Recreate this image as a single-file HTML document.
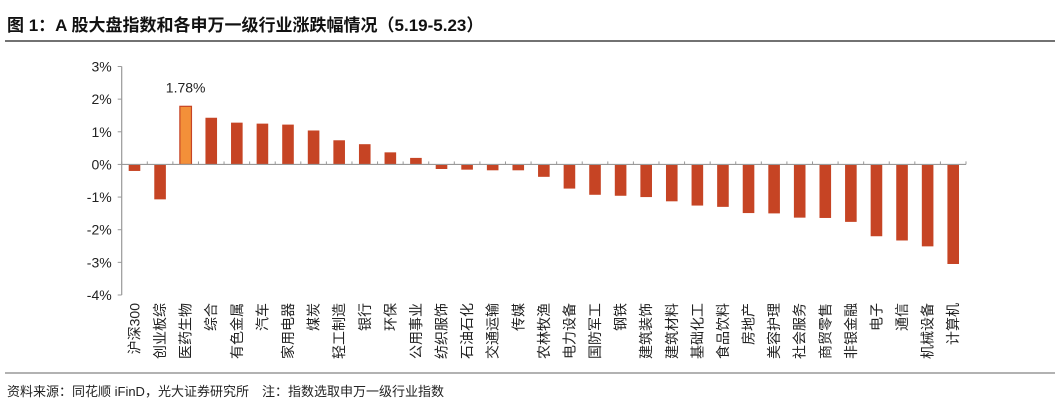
<!DOCTYPE html>
<html><head><meta charset="utf-8"><style>
body{margin:0;background:#fff;width:1055px;height:401px;overflow:hidden;font-family:"Liberation Sans","Noto Sans CJK SC",sans-serif}
</style></head><body>
<svg width="1055" height="401" xmlns="http://www.w3.org/2000/svg" font-family="Liberation Sans, Noto Sans CJK SC, sans-serif">
<text x="7" y="31" font-size="17" font-weight="bold" fill="#111">图 1：A 股大盘指数和各申万一级行业涨跌幅情况（5.19-5.23）</text>
<line x1="5" y1="41" x2="1055" y2="41" stroke="#444" stroke-width="1.5"/>
<line x1="5" y1="373" x2="1055" y2="373" stroke="#666" stroke-width="1"/>
<text x="7" y="396" font-size="13" fill="#222">资料来源：同花顺 iFinD，光大证券研究所　注：指数选取申万一级行业指数</text>
<g id="plot"></g>
</svg>
<script>
const categories=["沪深300","创业板综","医药生物","综合","有色金属","汽车","家用电器","煤炭","轻工制造","银行","环保","公用事业","纺织服饰","石油石化","交通运输","传媒","农林牧渔","电力设备","国防军工","钢铁","建筑装饰","建筑材料","基础化工","食品饮料","房地产","美容护理","社会服务","商贸零售","非银金融","电子","通信","机械设备","计算机"];
const values=[-0.20,-1.07,1.78,1.43,1.28,1.25,1.22,1.04,0.74,0.62,0.37,0.20,-0.14,-0.16,-0.18,-0.18,-0.38,-0.74,-0.93,-0.96,-1.00,-1.13,-1.26,-1.30,-1.49,-1.50,-1.63,-1.64,-1.76,-2.20,-2.33,-2.51,-3.05];
const yTicks=[3,2,1,0,-1,-2,-3,-4];
const highlightIndex=2;
const NS="http://www.w3.org/2000/svg";
const g=document.getElementById('plot');
const x0=121.7,x1=966,yTop=66.5,yBot=295;
const yMax=3,yMin=-4;
const y=v=>yTop+(yMax-v)/(yMax-yMin)*(yBot-yTop);
const step=(x1-x0)/categories.length;
const xc=i=>x0+step*(i+0.5);
function mk(t,a){const e=document.createElementNS(NS,t);for(const k in a)e.setAttribute(k,a[k]);g.appendChild(e);return e;}
// y axis
let ax=mk('line',{x1:x0,y1:yTop,x2:x0,y2:yBot,stroke:'#999','stroke-width':1.2});


yTicks.forEach(t=>{
 const tk=mk('line',{x1:x0-4,y1:y(t),x2:x0,y2:y(t),stroke:'#999'});
 
 
 const tx=mk('text',{x:x0-10,y:y(t)+5,'text-anchor':'end','font-size':14,fill:'#222'});
 tx.textContent=t+'%';
 
 
});
// bars
values.forEach((v,i)=>{
 const top=Math.min(y(v),y(0)),h=Math.abs(y(v)-y(0));
 const hl=i===highlightIndex;
 const r=mk('rect',{x:xc(i)-5.8,y:top,width:11.6,height:h,fill:hl?'#f39039':'#c64424',stroke:hl?'#c64424':'none','stroke-width':hl?1.2:0});
 
 
});
// x axis at zero
const xa=mk('line',{x1:x0,y1:y(0),x2:x1,y2:y(0),stroke:'#999','stroke-width':1.2});


for(let i=0;i<=categories.length;i++){
 const tk=mk('line',{x1:x0+step*i,y1:y(0)-3,x2:x0+step*i,y2:y(0),stroke:'#999'});
 
 
}
categories.forEach((c,i)=>{
 const t=mk('text',{x:0,y:0,'text-anchor':'end','font-size':14,fill:'#222',transform:`translate(${xc(i)+5},303) rotate(-90)`});
 t.textContent=c;
 
 
});
const lb=mk('text',{x:xc(highlightIndex),y:y(values[highlightIndex])-14,'text-anchor':'middle','font-size':14,fill:'#222'});
lb.textContent=values[highlightIndex].toFixed(2)+'%';


</script>
</body></html>
